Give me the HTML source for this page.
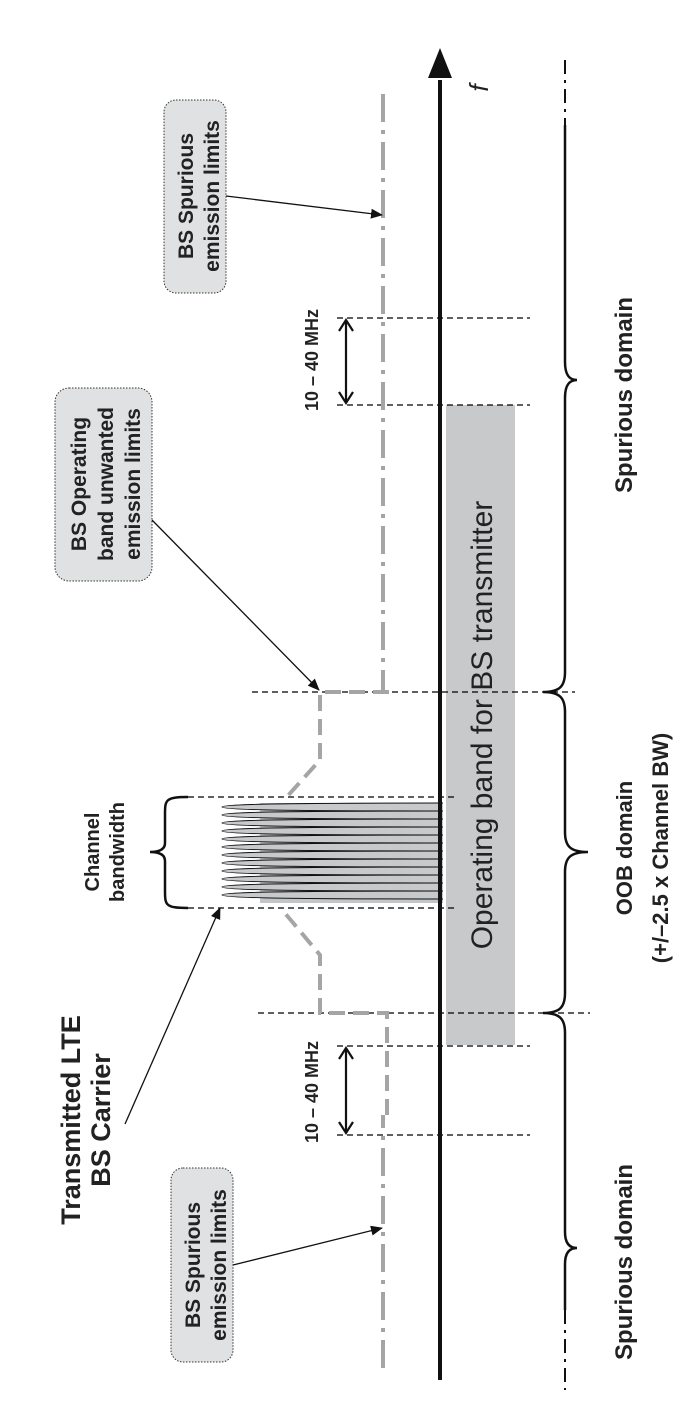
<!DOCTYPE html>
<html><head><meta charset="utf-8"><style>
html,body{margin:0;padding:0;background:#fff;}
svg{display:block;}
text{font-family:"Liberation Sans",Arial,sans-serif;font-weight:bold;fill:#222;}
</style></head><body>
<svg width="689" height="1417" viewBox="0 0 689 1417" xmlns="http://www.w3.org/2000/svg">
<defs>
<marker id="ah" markerWidth="12" markerHeight="10" refX="11" refY="5" orient="auto" markerUnits="userSpaceOnUse">
<path d="M0,0 L12,5 L0,10 z" fill="#111"/></marker>
</defs>
<rect x="446" y="405" width="69" height="640" fill="#c8c9cb"/>
<text transform="translate(492,725) rotate(-90)" text-anchor="middle" style="font-weight:normal;font-size:30px">Operating band for BS transmitter</text>

<g stroke="#000" stroke-width="1.2" stroke-dasharray="6,4" fill="none">
<line x1="337" y1="318" x2="530" y2="318"/>
<line x1="337" y1="405" x2="530" y2="405"/>
<line x1="252" y1="692" x2="575" y2="692"/>
<line x1="188" y1="797" x2="455" y2="797"/>
<line x1="188" y1="908" x2="455" y2="908"/>
<line x1="258" y1="1013" x2="590" y2="1013"/>
<line x1="337" y1="1046" x2="530" y2="1046"/>
<line x1="337" y1="1135" x2="530" y2="1135"/>
</g>

<g stroke="#a4a5a7" stroke-width="4" fill="none" stroke-dasharray="28,8,4,8">
<line x1="383" y1="94" x2="383" y2="690"/>
<line x1="383" y1="1368" x2="383" y2="1115"/>
</g>
<g stroke="#a4a5a7" stroke-width="4" fill="none" stroke-dasharray="16,8">
<path d="M387,690 L387,692 L320,692 L320,760 L284,800"/>
<path d="M387,1115 L387,1013 L320,1013 L320,955 L284,912"/>
</g>

<rect x="260" y="803" width="183" height="100" fill="#c4c5c7"/>
<g stroke="#111" stroke-width="1" fill="#c8c9cb">
<path d="M443,803 C300,803 222,804 222,807 C222,810 300,811 443,811"/>
<path d="M443,811 C300,811 222,812 222,815 C222,818 300,819 443,819"/>
<path d="M443,819 C300,819 222,820 222,823 C222,826 300,827 443,827"/>
<path d="M443,827 C300,827 222,828 222,831 C222,834 300,835 443,835"/>
<path d="M443,835 C300,835 222,836 222,839 C222,842 300,843 443,843"/>
<path d="M443,843 C300,843 222,844 222,847 C222,850 300,851 443,851"/>
<path d="M443,851 C300,851 222,852 222,855 C222,858 300,859 443,859"/>
<path d="M443,859 C300,859 222,860 222,863 C222,866 300,867 443,867"/>
<path d="M443,867 C300,867 222,868 222,871 C222,874 300,875 443,875"/>
<path d="M443,875 C300,875 222,876 222,879 C222,882 300,883 443,883"/>
<path d="M443,883 C300,883 222,884 222,887 C222,890 300,891 443,891"/>
<path d="M443,891 C300,891 222,892 222,895 C222,898 300,899 443,899"/>
</g>

<line x1="440" y1="80" x2="440" y2="1380" stroke="#111" stroke-width="4"/>
<path d="M440,48 L428,78 L452,78 z" fill="#111"/>
<text transform="translate(488,88) rotate(-90)" text-anchor="middle" style="font-style:italic;font-weight:normal;font-size:26px">f</text>

<g stroke="#111" stroke-width="2.2" fill="none">
<line x1="346" y1="320" x2="346" y2="403"/>
<path d="M339,331 L346,320 L353,331 M339,392 L346,403 L353,392"/>
<line x1="346" y1="1048" x2="346" y2="1133"/>
<path d="M339,1059 L346,1048 L353,1059 M339,1122 L346,1133 L353,1122"/>
</g>
<text transform="translate(318,360) rotate(-90)" text-anchor="middle" style="font-size:18px">10 – 40 MHz</text>
<text transform="translate(318,1092) rotate(-90)" text-anchor="middle" style="font-size:18px">10 – 40 MHz</text>

<path d="M188,797 C165,797 165,800 165,815 L165,843 C165,850 158,852 150,852 C158,852 165,854 165,861 L165,890 C165,905 165,908 188,908" fill="none" stroke="#111" stroke-width="2.5"/>
<text transform="translate(99,852) rotate(-90)" text-anchor="middle" style="font-size:20px">Channel</text>
<text transform="translate(124,852) rotate(-90)" text-anchor="middle" style="font-size:20px">bandwidth</text>

<g fill="none" stroke="#111" stroke-width="2.5">
<line x1="565" y1="60" x2="565" y2="125" stroke-dasharray="14,6,3,6" stroke-width="2"/>
<path d="M565,125 L565,362 C565,376 570,380 577,380 C570,380 565,384 565,398 L565,672 C565,686 560,692 543,692 C560,692 565,698 565,712 L565,832 C565,846 570,852 588,852 C570,852 565,858 565,872 L565,993 C565,1007 560,1013 543,1013 C560,1013 565,1019 565,1033 L565,1232 C565,1244 570,1248 577,1248 C570,1248 565,1252 565,1264 L565,1310"/>
<line x1="565" y1="1310" x2="565" y2="1390" stroke-dasharray="14,6,3,6" stroke-width="2"/>
</g>
<text transform="translate(632,395) rotate(-90)" text-anchor="middle" style="font-size:24px">Spurious domain</text>
<text transform="translate(632,1262) rotate(-90)" text-anchor="middle" style="font-size:24px">Spurious domain</text>
<text transform="translate(632,848) rotate(-90)" text-anchor="middle" style="font-size:22px">OOB domain</text>
<text transform="translate(668,848) rotate(-90)" text-anchor="middle" style="font-size:22px">(+/–2.5 x Channel BW)</text>

<g fill="#e0e1e2" stroke="#333" stroke-width="1" stroke-dasharray="1.5,1.5">
<rect x="164" y="100" width="62" height="193" rx="12"/>
<rect x="55" y="388" width="97" height="193" rx="14"/>
<rect x="171" y="1168" width="62" height="194" rx="12"/>
</g>
<text transform="translate(193,196) rotate(-90)" text-anchor="middle" style="font-size:21px">BS Spurious</text>
<text transform="translate(219,196) rotate(-90)" text-anchor="middle" style="font-size:21px">emission limits</text>
<text transform="translate(86,484) rotate(-90)" text-anchor="middle" style="font-size:21px">BS Operating</text>
<text transform="translate(113,484) rotate(-90)" text-anchor="middle" style="font-size:21px">band unwanted</text>
<text transform="translate(140,484) rotate(-90)" text-anchor="middle" style="font-size:21px">emission limits</text>
<text transform="translate(200,1265) rotate(-90)" text-anchor="middle" style="font-size:21px">BS Spurious</text>
<text transform="translate(226,1265) rotate(-90)" text-anchor="middle" style="font-size:21px">emission limits</text>

<text transform="translate(80,1120) rotate(-90)" text-anchor="middle" style="font-size:27px">Transmitted LTE</text>
<text transform="translate(110,1120) rotate(-90)" text-anchor="middle" style="font-size:27px">BS Carrier</text>

<g stroke="#111" stroke-width="1.3" fill="none">
<line x1="226" y1="196" x2="382" y2="215" marker-end="url(#ah)"/>
<line x1="152" y1="520" x2="319" y2="690" marker-end="url(#ah)"/>
<line x1="233" y1="1265" x2="382" y2="1228" marker-end="url(#ah)"/>
<line x1="125" y1="1124" x2="220" y2="908" marker-end="url(#ah)"/>
</g>
</svg>
</body></html>
